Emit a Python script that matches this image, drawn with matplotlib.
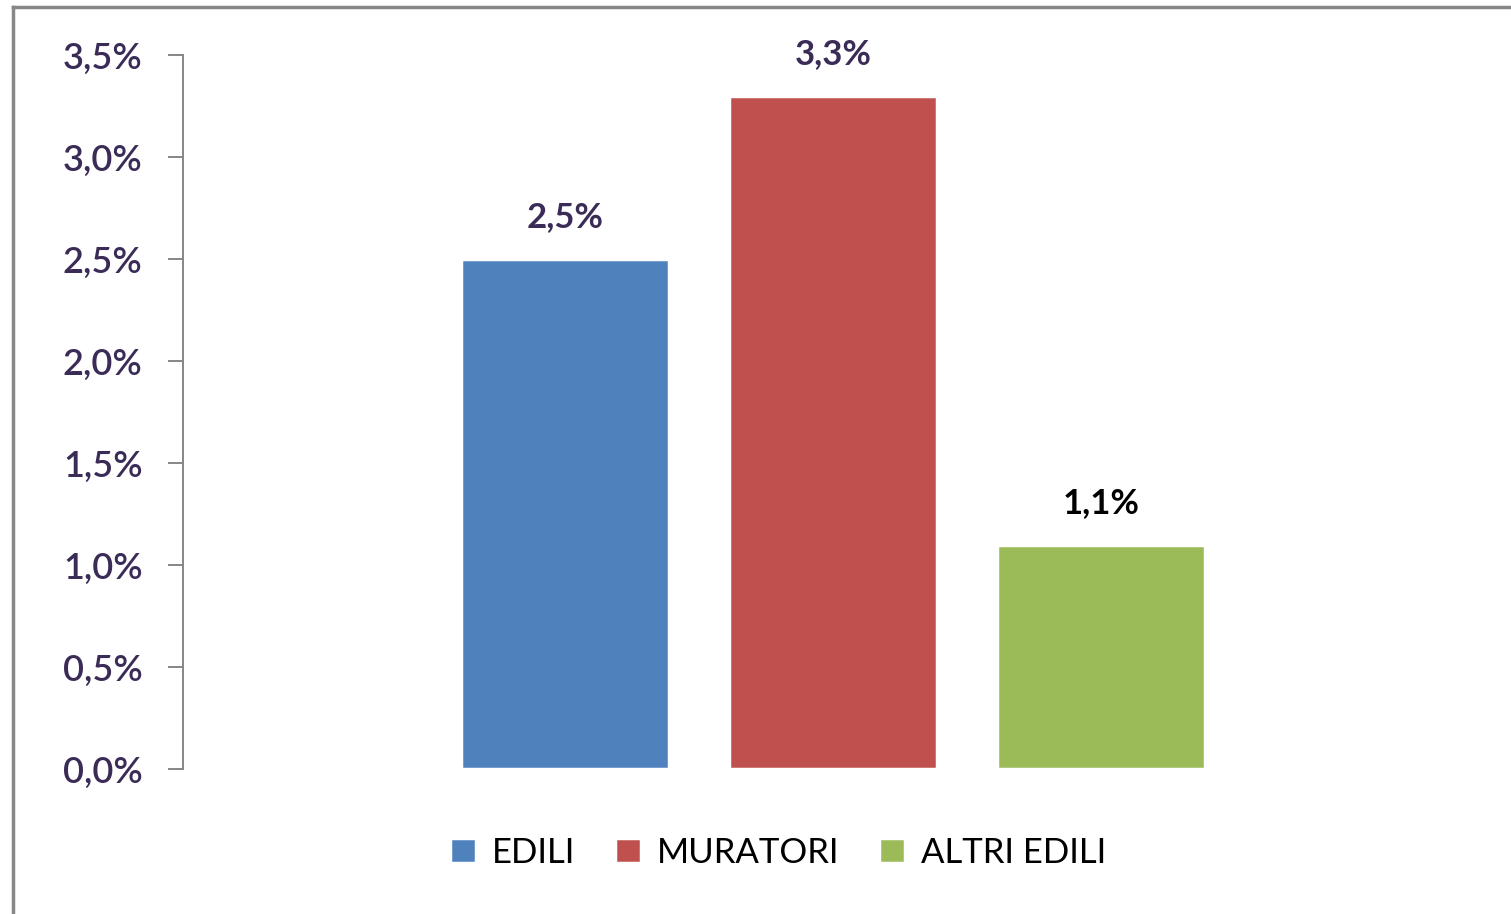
import matplotlib.pyplot as plt
import matplotlib.patheffects as pe
from matplotlib.lines import Line2D

categories = ["EDILI", "MURATORI", "ALTRI EDILI"]
values = [2.5, 3.3, 1.1]
colors = ["#4F81BD", "#C0504D", "#9BBB59"]
label_colors = ["#3B2C57", "#3B2C57", "#000000"]
yticks = [0.0, 0.5, 1.0, 1.5, 2.0, 2.5, 3.0, 3.5]

plt.rcParams["font.family"] = ["Lato", "DejaVu Sans"]

fig = plt.figure(figsize=(15.11, 9.14), dpi=100)
ax = fig.add_axes([0.1211, 0.1586, 0.8629, 0.7812])

x = list(range(len(categories)))
bars = ax.bar(x, values, width=0.775, color=colors, edgecolor="white", linewidth=2.5,
              label=categories, zorder=3)
for b in bars:
    b.set_path_effects([pe.SimplePatchShadow(offset=(1.5, -1.5), shadow_rgbFace="#999999", alpha=0.5),
                        pe.Normal()])

for xi, v, c in zip(x, values, label_colors):
    ax.annotate(f"{v:.1f}%".replace(".", ","), (xi, v), xytext=(0, 30), textcoords="offset points",
                ha="center", va="center", fontsize=25, fontweight="bold", color=c)

ax.set_xlim(-1.425, 3.44)
ax.set_ylim(0, 3.5)
ax.set_yticks(yticks)
ax.set_yticklabels([f"{t:.1f}%".replace(".", ",") for t in yticks])
ax.set_xticks([])
for s in ["top", "right", "bottom"]:
    ax.spines[s].set_visible(False)
ax.spines["left"].set_color("#868686")
ax.spines["left"].set_linewidth(1.4)
ax.tick_params(axis="y", length=11, width=1.4, color="#868686", pad=18,
               labelsize=26, labelcolor="#3B2C57")
for lab in ax.get_yticklabels():
    lab.set_fontweight("semibold")

ax.legend(handles=bars, labels=categories, loc="center", bbox_to_anchor=(0.515, 0.067),
          bbox_transform=fig.transFigure, ncol=3, frameon=False, fontsize=25,
          handlelength=0.75, handleheight=0.75, handletextpad=0.45, columnspacing=1.15)

# outer chart frame (only left and top edges fall inside the picture)
fig.add_artist(Line2D([13 / 1511, 13 / 1511], [0, 1 - 6.5 / 914], transform=fig.transFigure,
                      color="#878787", linewidth=2.5))
fig.add_artist(Line2D([13 / 1511, 1], [1 - 6.5 / 914, 1 - 6.5 / 914], transform=fig.transFigure,
                      color="#878787", linewidth=2.5))

fig.savefig("out.png", dpi=100)
